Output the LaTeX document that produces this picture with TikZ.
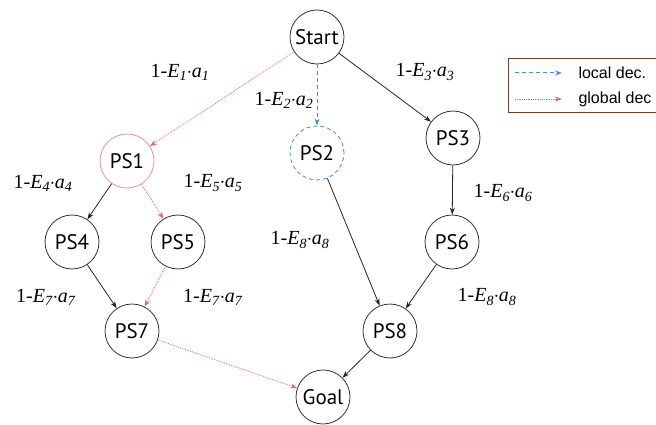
\documentclass[tikz,border=0pt]{standalone}
\usepackage{fontspec}
\setmainfont{Liberation Serif}
\newfontfamily\nodefont{PT Sans}
\newfontfamily\legfont{Liberation Sans}
\usetikzlibrary{arrows.meta}
\definecolor{globred}{RGB}{228,100,100}
\definecolor{locblue}{RGB}{70,140,225}
\definecolor{legframe}{RGB}{120,60,40}
\tikzstyle{state} = [circle, minimum size=54pt, inner sep=0pt, draw=black!80, line width=0.8pt, font=\nodefont\fontsize{21}{24}\selectfont]
\tikzstyle{globstate} = [state, draw=globred!70]
\tikzstyle{locstate} = [state, draw=locblue, dashed, dash pattern=on 4pt off 3pt]
\tikzstyle{prob} = [inner sep=1pt, font=\fontsize{20}{22}\selectfont]
\tikzstyle{arrow} = [-{Stealth[length=7pt,width=5pt]}, line width=0.8pt, black!85]
\tikzstyle{globarrow} = [-{Stealth[length=7pt,width=5pt]}, line width=0.8pt, globred, densely dotted]
\tikzstyle{locarrow} = [-{Stealth[length=7pt,width=5pt]}, line width=1pt, locblue, dash pattern=on 4pt off 3pt]
\newcommand{\pe}[2]{1-\textit{E}\textsubscript{\textit{#1}}\kern-0.5pt$\cdot$\kern-0.5pt\textit{a}\textsubscript{\textit{#2}}}

\begin{document}
\begin{tikzpicture}[x=1pt, y=-1pt]
	\useasboundingbox (0,0) rectangle (656,425);
	\node (start) [state] at (317,37) {Start};
	\node (ps1) [globstate] at (127,161) {PS1};
	\node (ps2) [locstate] at (317,153) {PS2};
	\node (ps3) [state] at (453,138) {PS3};
	\node (ps4) [state] at (72,242) {PS4};
	\node (ps5) [state] at (178,242) {PS5};
	\node (ps6) [state] at (452,242) {PS6};
	\node (ps7) [state] at (132,331) {PS7};
	\node (ps8) [state] at (390,331) {PS8};
	\node (goal) [state] at (323,397) {Goal};

	% edge labels
	\node (l1) [prob] at (180,72) {\pe{1}{1}};
	\node (l2) [prob] at (284,100) {\pe{2}{2}};
	\node (l3) [prob] at (425,72) {\pe{3}{3}};
	\node (l4) [prob] at (43,183) {\pe{4}{4}};
	\node (l5) [prob] at (213,183) {\pe{5}{5}};
	\node (l6) [prob] at (503,193) {\pe{6}{6}};
	\node (l8a) [prob] at (300,240) {\pe{8}{8}};
	\node (l7a) [prob] at (46,297) {\pe{7}{7}};
	\node (l7b) [prob] at (213,297) {\pe{7}{7}};
	\node (l8b) [prob] at (487,297) {\pe{8}{8}};

	\draw [globarrow](start) -- (ps1);
	\draw [locarrow](start) -- (ps2);
	\draw [arrow](start) -- (ps3);
	\draw [arrow](ps1) -- (ps4);
	\draw [globarrow](ps1) -- (ps5);
	\draw [arrow](ps2) -- (ps8);
	\draw [arrow](ps3) -- (ps6);
	\draw [arrow](ps4) -- (ps7);
	\draw [globarrow](ps5) -- (ps7);
	\draw [arrow](ps6) -- (ps8);
	\draw [globarrow](ps7) -- (goal);
	\draw [arrow](ps8) -- (goal);

	% legend
	\node (legbox) [draw=legframe, line width=0.7pt, minimum width=160pt, minimum height=54pt, anchor=north west] at (508,58) {};
	\coordinate (loca) at (515,73);
	\coordinate (locb) at (562,73);
	\coordinate (globa) at (515,99);
	\coordinate (globb) at (562,99);
	\draw [locarrow](loca) -- (locb);
	\draw [globarrow](globa) -- (globb);
	\node (loctxt) [anchor=west, font=\legfont\fontsize{16}{18}\selectfont] at (575,73) {local dec.};
	\node (globtxt) [anchor=west, font=\legfont\fontsize{16}{18}\selectfont] at (575,99) {global dec};
\end{tikzpicture}
\end{document}
